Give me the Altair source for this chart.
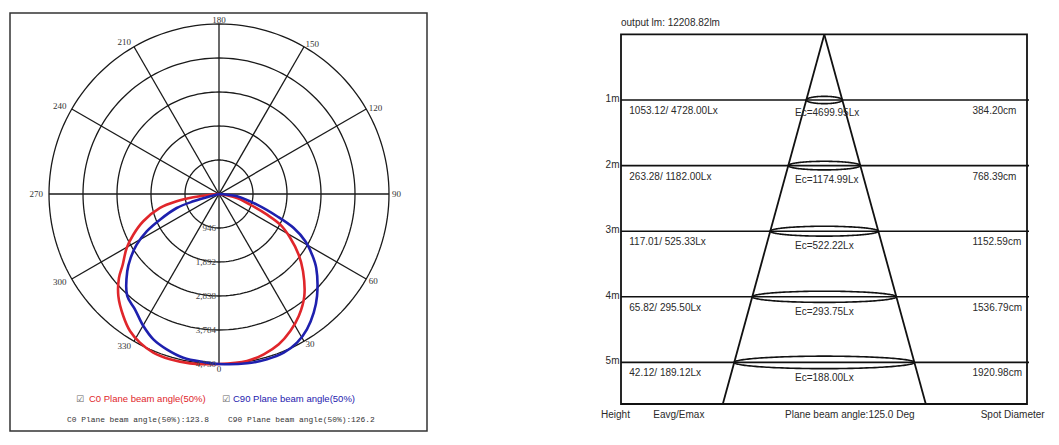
import altair as alt
import numpy as np
import pandas as pd

# ---------------- values ----------------
# Polar intensity diagram (cd)
ring_values = [946, 1892, 2838, 3784, 4730]
ring_labels = ["946", "1,892", "2,838", "3,784", "4,730"]
spoke_angles = [0, 30, 60, 90, 120, 150]
tick_angles = [0, 30, 60, 90, 120, 150, 180, 210, 240, 270, 300, 330]

c0_gamma = [-90, -85.6, -82.7, -80.2, -76.7, -70.2, -64.6, -59.7, -53.7, -50.0,
            -44.6, -38.1, -33.0, -28.0, -22.5, -16.5, -9.7, 0, 9.5, 15.6, 21.7,
            27.5, 33.2, 39.9, 47.4, 52.7, 58.3, 63.4, 66.7, 71.1, 77.5, 80.8, 90]
c0_cd = [0, 250, 721, 1194, 1687, 2239, 2640, 2975, 3324, 3634,
         3988, 4315, 4546, 4685, 4779, 4797, 4780, 4730, 4711, 4630, 4500,
         4297, 4055, 3700, 3176, 2787, 2331, 1908, 1455, 920, 513, 225, 0]

c90_gamma = [-90, -76, -74.1, -71.7, -66.5, -62.7, -58.4, -54.1, -49.9, -42.0,
             -36.1, -29.8, -24.3, -18.6, -12.3, -5.3, 0, 9.4, 16.2, 22.2, 27.7,
             33.0, 38.6, 43.9, 52.7, 56.9, 61.3, 65.5, 69.0, 74.3, 82.7, 85, 90]
c90_cd = [0, 250, 743, 1240, 1791, 2264, 2690, 3034, 3337, 3816,
          3970, 4234, 4437, 4560, 4661, 4695, 4730, 4775, 4789, 4769, 4672,
          4491, 4225, 3935, 3401, 3090, 2739, 2284, 1729, 1098, 505, 223, 0]

series_names = ["C0", "C90"]
series_colors = ["#e0262b", "#1e20ae"]
legend_texts = ["C0 Plane beam angle(50%)", "C90 Plane beam angle(50%)"]
beam_angles = ["123.8", "126.2"]

# Illuminance cone diagram
heights_m = [1, 2, 3, 4, 5]
eavg_lx = ["1053.12", "263.28", "117.01", "65.82", "42.12"]
emax_lx = ["4728.00", "1182.00", "525.33", "295.50", "189.12"]
ec_lx = ["4699.95", "1174.99", "522.22", "293.75", "188.00"]
spot_cm = ["384.20", "768.39", "1152.59", "1536.79", "1920.98"]
output_lm = "12208.82"
plane_beam_angle = "125.0"
bottom_labels = ["Height", "Eavg/Emax", f"Plane beam angle:{plane_beam_angle} Deg", "Spot Diameter"]

# ---------------- layout (pixels of the 1059x445 page) ----------------
L_VIEW = (8, 11, 429, 433)
R_VIEW = (594, 11, 1052, 433)
CX, CY, RPX = 219, 194, 170          # polar centre and outer radius
K = ring_values[-1] / RPX            # cd per pixel


def lx(px):
    return (px - CX) * K


def ly(py):
    return (py - CY) * K


APX, APY, PXM = 824.3, 34.4, 65.6     # cone apex and px per metre


def rx(px):
    return (px - APX) / PXM


def ry(py):
    return (py - APY) / PXM


deg = np.pi / 180

# ---------------- left panel: polar diagram ----------------
XL = alt.X("x:Q", scale=alt.Scale(domain=[lx(L_VIEW[0]), lx(L_VIEW[2])], nice=False, zero=False), axis=None)
YL = alt.Y("y:Q", scale=alt.Scale(domain=[ly(L_VIEW[1]), ly(L_VIEW[3])], nice=False, zero=False, reverse=True), axis=None)

frame_l = pd.DataFrame({"x": [lx(10)], "x2": [lx(427)], "y": [ly(13)], "y2": [ly(431)]})
frame_l_layer = alt.Chart(frame_l).mark_rect(fillOpacity=0, stroke="#333", strokeWidth=1.5).encode(
    x=XL, x2="x2:Q", y=YL, y2="y2:Q")

t = np.arange(0, 362, 2)
ring_rows = []
for r in ring_values:
    for tt in t:
        ring_rows.append({"ring": r, "t": tt, "x": r * np.sin(tt * deg), "y": r * np.cos(tt * deg)})
rings = alt.Chart(pd.DataFrame(ring_rows)).mark_line(color="#1a1a1a", strokeWidth=1.3).encode(
    x=XL, y=YL, detail="ring:N", order="t:Q")

R = ring_values[-1]
spokes_df = pd.DataFrame({
    "x": [R * np.sin(a * deg) for a in spoke_angles],
    "y": [R * np.cos(a * deg) for a in spoke_angles],
    "x2": [-R * np.sin(a * deg) for a in spoke_angles],
    "y2": [-R * np.cos(a * deg) for a in spoke_angles],
})
spokes = alt.Chart(spokes_df).mark_rule(color="#1a1a1a", strokeWidth=1.3).encode(
    x=XL, y=YL, x2="x2:Q", y2="y2:Q")

curve_rows = []
for name, gam, val in [("C0", c0_gamma, c0_cd), ("C90", c90_gamma, c90_cd)]:
    for g, v in zip(gam, val):
        curve_rows.append({"series": name, "ang": g, "cd": v,
                           "x": v * np.sin(g * deg), "y": v * np.cos(g * deg)})
curves = alt.Chart(pd.DataFrame(curve_rows)).mark_line(strokeWidth=2.6, interpolate="catmull-rom").encode(
    x=XL, y=YL,
    color=alt.Color("series:N", scale=alt.Scale(domain=series_names, range=series_colors), legend=None),
    order="ang:Q")


def tick_df(side):
    rows = []
    for a in tick_angles:
        if a in (0, 180):
            s, rp = "center", (175 if a == 0 else 174)
        elif a < 180:
            s, rp = "left", 173
        else:
            s, rp = "right", 176
        if s == side:
            rows.append({"x": rp * K * np.sin(a * deg), "y": rp * K * np.cos(a * deg), "text": str(a)})
    return pd.DataFrame(rows)


tick_layers = [
    alt.Chart(tick_df(side)).mark_text(align=side, baseline="middle", font="Liberation Serif",
                                       fontSize=9, color="#333").encode(x=XL, y=YL, text="text:N")
    for side in ["left", "right", "center"]
]

ring_lab_df = pd.DataFrame({"x": [lx(216)] * len(ring_values), "y": ring_values, "text": ring_labels})
ring_labs = alt.Chart(ring_lab_df).mark_text(align="right", baseline="middle", font="Liberation Serif",
                                             fontSize=9, color="#444").encode(x=XL, y=YL, text="text:N")

check_df = pd.DataFrame({"x": [lx(80), lx(226)], "y": [ly(399), ly(399)], "text": ["☑", "☑"]})
checks = alt.Chart(check_df).mark_text(align="center", baseline="middle", font="DejaVu Sans",
                                       fontSize=9, color="#666").encode(x=XL, y=YL, text="text:N")

leg_df = pd.DataFrame({"x": [lx(89), lx(233)], "y": [ly(399), ly(399)],
                       "text": legend_texts, "series": series_names})
legend_l = alt.Chart(leg_df).mark_text(align="left", baseline="middle", font="Liberation Sans",
                                       fontSize=9.5).encode(
    x=XL, y=YL, text="text:N",
    color=alt.Color("series:N", scale=alt.Scale(domain=series_names, range=["#c8282c", "#2a2a98"]), legend=None))

sum_df = pd.DataFrame({"x": [lx(67), lx(228)], "y": [ly(420), ly(420)],
                       "text": [f"{legend_texts[0]}:{beam_angles[0]}", f"{legend_texts[1]}:{beam_angles[1]}"]})
summary = alt.Chart(sum_df).mark_text(align="left", baseline="middle", font="Liberation Mono",
                                      fontSize=7.9, color="#333").encode(x=XL, y=YL, text="text:N")

left = alt.layer(frame_l_layer, rings, spokes, curves, *tick_layers, ring_labs, checks, legend_l, summary).properties(
    width=L_VIEW[2] - L_VIEW[0], height=L_VIEW[3] - L_VIEW[1])

# ---------------- right panel: cone diagram ----------------
XR = alt.X("x:Q", scale=alt.Scale(domain=[rx(R_VIEW[0]), rx(R_VIEW[2])], nice=False, zero=False), axis=None)
YR = alt.Y("y:Q", scale=alt.Scale(domain=[ry(R_VIEW[1]), ry(R_VIEW[3])], nice=False, zero=False, reverse=True), axis=None)

bottom_m = ry(404)
frame_r = pd.DataFrame({"x": [rx(621)], "x2": [rx(1027)], "y": [0.0], "y2": [bottom_m]})
frame_r_layer = alt.Chart(frame_r).mark_rect(fillOpacity=0, stroke="#111", strokeWidth=1.8).encode(
    x=XR, x2="x2:Q", y=YR, y2="y2:Q")

hl_df = pd.DataFrame({"x": [rx(621)] * 5, "x2": [rx(1029)] * 5, "y": heights_m})
hlines = alt.Chart(hl_df).mark_rule(color="#111", strokeWidth=1.6).encode(x=XR, x2="x2:Q", y=YR)

cone_slope = 0.2746
cone_df = pd.DataFrame({"x": [0.0, 0.0], "y": [0.0, 0.0],
                        "x2": [-cone_slope * bottom_m, cone_slope * bottom_m], "y2": [bottom_m, bottom_m]})
cone = alt.Chart(cone_df).mark_rule(color="#111", strokeWidth=1.8).encode(x=XR, y=YR, x2="x2:Q", y2="y2:Q")

ell_rows = []
for h in heights_m:
    semi_minor = (3 + 0.65 * h) / PXM
    for tt in t:
        ell_rows.append({"h": h, "t": tt, "x": cone_slope * h * np.cos(tt * deg),
                         "y": h + semi_minor * np.sin(tt * deg)})
ellipses = alt.Chart(pd.DataFrame(ell_rows)).mark_line(color="#111", strokeWidth=1.6).encode(
    x=XR, y=YR, detail="h:N", order="t:Q")

RFONT = dict(font="Liberation Sans", fontSize=10, color="#2a2a2a", baseline="middle")

top_df = pd.DataFrame({"x": [rx(621)], "y": [ry(23.3)], "text": [f"output lm: {output_lm}lm"]})
top_txt = alt.Chart(top_df).mark_text(align="left", **RFONT).encode(x=XR, y=YR, text="text:N")

hlab_df = pd.DataFrame({"x": [rx(619.5)] * 5, "y": [h - 1 / PXM for h in heights_m],
                        "text": [f"{h}m" for h in heights_m]})
hlabs = alt.Chart(hlab_df).mark_text(align="right", **RFONT).encode(x=XR, y=YR, text="text:N")

e_df = pd.DataFrame({"x": [rx(629.3)] * 5, "y": [h + 11 / PXM for h in heights_m],
                     "text": [f"{a}/ {b}Lx" for a, b in zip(eavg_lx, emax_lx)]})
e_txt = alt.Chart(e_df).mark_text(align="left", **RFONT).encode(x=XR, y=YR, text="text:N")

ec_df = pd.DataFrame({"x": [rx(795)] * 5, "y": [h + (3 + 0.65 * h + 9.8) / PXM for h in heights_m],
                      "text": [f"Ec={v}Lx" for v in ec_lx]})
ec_txt = alt.Chart(ec_df).mark_text(align="left", **RFONT).encode(x=XR, y=YR, text="text:N")

sp_df = pd.DataFrame({"x": [rx(972.5)] * 5, "y": [h + 11 / PXM for h in heights_m],
                      "text": [f"{v}cm" for v in spot_cm]})
sp_txt = alt.Chart(sp_df).mark_text(align="left", **RFONT).encode(x=XR, y=YR, text="text:N")

bot_df = pd.DataFrame({"x": [rx(601), rx(653.3), rx(785), rx(980.7)], "y": [ry(415)] * 4, "text": bottom_labels})
bot_txt = alt.Chart(bot_df).mark_text(align="left", **RFONT).encode(x=XR, y=YR, text="text:N")

right = alt.layer(frame_r_layer, hlines, cone, ellipses, top_txt, hlabs, e_txt, ec_txt, sp_txt, bot_txt).properties(
    width=R_VIEW[2] - R_VIEW[0], height=R_VIEW[3] - R_VIEW[1])

chart = alt.hconcat(left, right, spacing=R_VIEW[0] - L_VIEW[2], bounds="flush").resolve_scale(
    x="independent", y="independent", color="independent"
).properties(
    padding={"left": L_VIEW[0], "top": L_VIEW[1], "right": 7, "bottom": 12},
    background="white",
).configure_view(strokeWidth=0)

chart.save("out.html", embed_options={"renderer": "svg", "actions": False})
